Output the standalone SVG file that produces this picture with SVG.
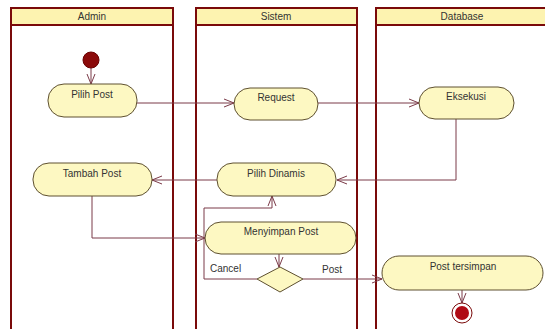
<svg xmlns="http://www.w3.org/2000/svg" width="545" height="329" viewBox="0 0 545 329">
<style>
.lane{fill:#ffffff;stroke:#7a0a0a;stroke-width:2}
.hdr{fill:#fdf3b0;stroke:#7a0a0a;stroke-width:2}
.act{fill:#fdf8c2;stroke:#5e5030;stroke-width:1}
.t{font-family:"Liberation Sans",Arial,sans-serif;font-size:10px;fill:#333333;text-anchor:middle}
.lbl{font-family:"Liberation Sans",Arial,sans-serif;font-size:10px;fill:#333333}
.c{fill:none;stroke:#7a3a48;stroke-width:1}
</style>
<defs>
<marker id="ah" viewBox="0 0 10 10" refX="10" refY="5" markerWidth="10" markerHeight="10" markerUnits="userSpaceOnUse" orient="auto">
<path d="M0,1 L10,5 L0,9" fill="none" stroke="#7a3a48" stroke-width="1"/>
</marker>
</defs>
<rect width="545" height="329" fill="#ffffff"/>
<g id="lane-admin">
<rect class="lane" x="11" y="8" width="162" height="330"/>
<rect class="hdr" x="11" y="8" width="162" height="17"/>
<text class="t" x="92" y="20">Admin</text>
</g>
<g id="lane-sistem">
<rect class="lane" x="196" y="8" width="161" height="330"/>
<rect class="hdr" x="196" y="8" width="161" height="17"/>
<text class="t" x="276" y="20">Sistem</text>
</g>
<g id="lane-database">
<rect class="lane" x="376" y="8" width="180" height="330"/>
<rect class="hdr" x="376" y="8" width="180" height="17"/>
<text class="t" x="462" y="20">Database</text>
</g>
<g id="connectors">
<path class="c" d="M91,68 V84" marker-end="url(#ah)"/>
<path class="c" d="M137,103 H234" marker-end="url(#ah)"/>
<path class="c" d="M318,103 H419" marker-end="url(#ah)"/>
<path class="c" d="M456,119 V180 H337" marker-end="url(#ah)"/>
<path class="c" d="M217,180 H152" marker-end="url(#ah)"/>
<path class="c" d="M92,196 V238 H205" marker-end="url(#ah)"/>
<path class="c" d="M279,254 V267" marker-end="url(#ah)"/>
<path class="c" d="M257,279 H204 V208 H272 V196" marker-end="url(#ah)"/>
<path class="c" d="M303,279 H382" marker-end="url(#ah)"/>
<path class="c" d="M462,290 V303" marker-end="url(#ah)"/>
<text class="lbl" x="210" y="272">Cancel</text>
<text class="lbl" x="322" y="273">Post</text>
</g>
<g id="start">
<circle cx="91" cy="60" r="8" fill="#8b0a0a" stroke="#6a0000" stroke-width="1"/>
</g>
<g id="pilih-post">
<rect class="act" x="48" y="84" width="89" height="33" rx="16"/>
<text class="t" x="92" y="98">Pilih Post</text>
</g>
<g id="request">
<rect class="act" x="234" y="88" width="84" height="32" rx="16"/>
<text class="t" x="276" y="101">Request</text>
</g>
<g id="eksekusi">
<rect class="act" x="419" y="87" width="95" height="32" rx="16"/>
<text class="t" x="466" y="100">Eksekusi</text>
</g>
<g id="pilih-dinamis">
<rect class="act" x="217" y="163" width="119" height="33" rx="16"/>
<text class="t" x="276" y="177">Pilih Dinamis</text>
</g>
<g id="tambah-post">
<rect class="act" x="33" y="163" width="119" height="33" rx="16"/>
<text class="t" x="92" y="177">Tambah Post</text>
</g>
<g id="menyimpan-post">
<rect class="act" x="205" y="222" width="151" height="32" rx="16"/>
<text class="t" x="281" y="235">Menyimpan Post</text>
</g>
<g id="decision">
<polygon class="act" points="280,267 303,279 280,292 257,279"/>
</g>
<g id="post-tersimpan">
<rect class="act" x="382" y="256" width="161" height="34" rx="17"/>
<text class="t" x="463" y="270">Post tersimpan</text>
</g>
<g id="end">
<circle cx="462" cy="313" r="10" fill="#ffffff" stroke="#7a0a0a" stroke-width="1"/>
<circle cx="462" cy="313" r="7" fill="#b00a14"/>
</g>
</svg>
